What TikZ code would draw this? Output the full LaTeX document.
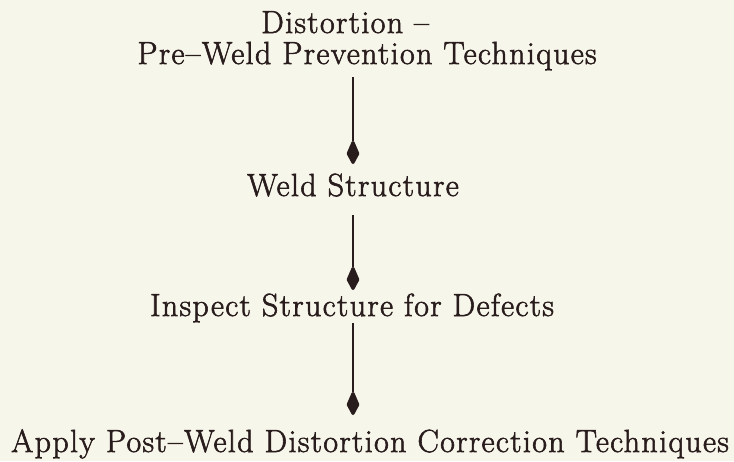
\documentclass[tikz,border=0pt]{standalone}
\usepackage{fontspec}
\usetikzlibrary{arrows.meta}
\definecolor{paper}{RGB}{247,246,234}
\definecolor{ink}{RGB}{40,28,28}
\newfontfamily\typedfont{Latin Modern Roman}[LetterSpace=4.2,FakeBold=1.8]
\tikzset{
  label/.style={anchor=base, inner sep=0pt, text=ink, font=\typedfont\fontsize{32}{38}\selectfont},
  flow/.style={draw=ink, line width=1.8pt,
    -{Kite[length=27pt,width=13pt,inset=15pt,line width=3pt,round]}},
}
\begin{document}
\begin{tikzpicture}[x=1pt,y=-1pt]
  \fill[paper] (0,0) rectangle (734,461);
  \useasboundingbox (0,0) rectangle (734,461);

  \node[label] (t1) at (345,33) {Distortion –};
  \node[label] (t2) at (367,64) {Pre–Weld Prevention Techniques};
  \node[label] (s2) at (353,196) {Weld Structure};
  \node[label] (s3) at (352,316) {Inspect Structure for Defects};
  \node[label] (s4) at (370,452) {Apply Post–Weld Distortion Correction Techniques};

  \coordinate (a1s) at (353,77);  \coordinate (a1e) at (353,164);
  \coordinate (a2s) at (353,215); \coordinate (a2e) at (353,290);
  \coordinate (a3s) at (353,323); \coordinate (a3e) at (353,415);
  \draw[flow] (a1s) -- (a1e);
  \draw[flow] (a2s) -- (a2e);
  \draw[flow] (a3s) -- (a3e);
\end{tikzpicture}
\end{document}
